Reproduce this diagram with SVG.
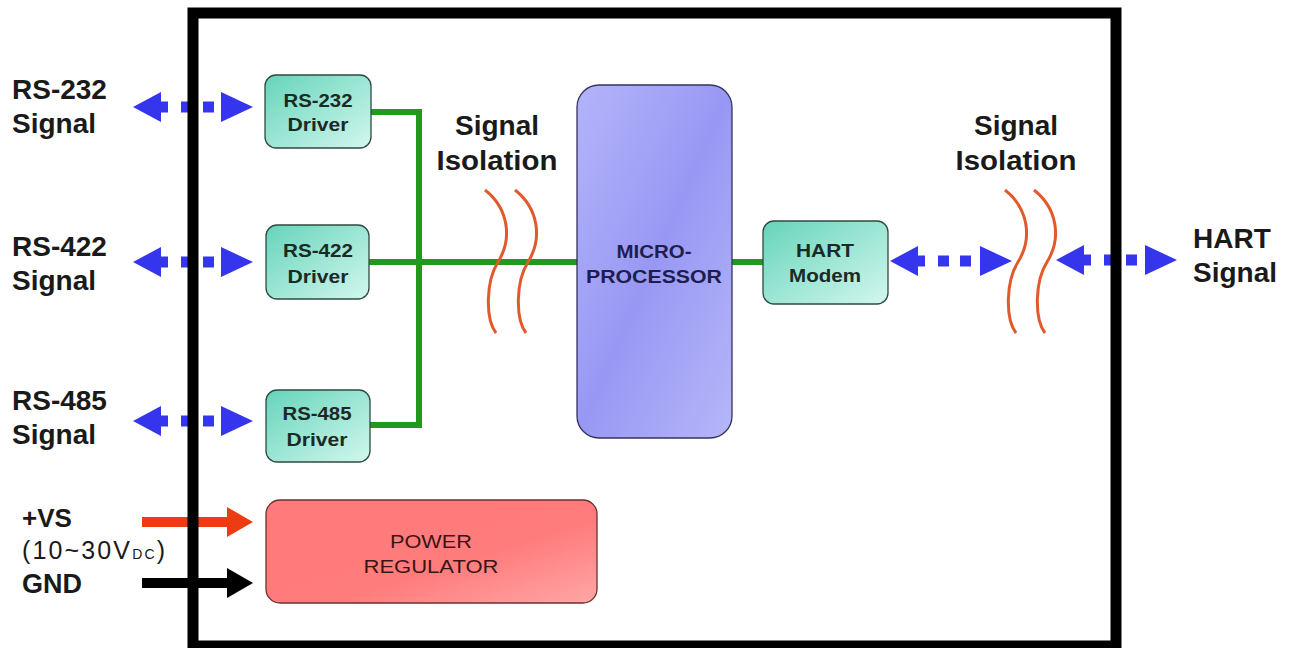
<svg xmlns="http://www.w3.org/2000/svg" width="1298" height="648" viewBox="0 0 1298 648">
<defs>
<linearGradient id="gTeal" x1="0" y1="0" x2="1" y2="1"><stop offset="0" stop-color="#66d4ba"/><stop offset="1" stop-color="#d2f7ee"/></linearGradient>
<linearGradient id="gBlue" x1="0" y1="0" x2="1" y2="1"><stop offset="0" stop-color="#b4b4fa"/><stop offset="0.5" stop-color="#9898f4"/><stop offset="1" stop-color="#b6b6f9"/></linearGradient>
<linearGradient id="gRed" x1="0" y1="0" x2="1" y2="1"><stop offset="0" stop-color="#ff7a7a"/><stop offset="0.6" stop-color="#ff7c7c"/><stop offset="1" stop-color="#ffa6a6"/></linearGradient>
<style>
.lbl{font-family:"Liberation Sans",Arial,sans-serif;font-weight:bold;font-size:28px;fill:#1a1a1a}
.lbl2{font-family:"Liberation Sans",Arial,sans-serif;font-size:25px;fill:#1a1a1a}
.btxt{font-family:"Liberation Sans",Arial,sans-serif;font-weight:bold;font-size:18px;fill:#1c2a26}
.mtxt{font-family:"Liberation Sans",Arial,sans-serif;font-weight:bold;font-size:18px;fill:#1e1e4e}
.ptxt{font-family:"Liberation Sans",Arial,sans-serif;font-size:18px;fill:#3a1414}
.drv{fill:url(#gTeal);stroke:#2f4a40;stroke-width:1.3}
.bus{stroke:#1f9a1f;stroke-width:6;fill:none}
.iso{stroke:#e05a2c;stroke-width:3;fill:none}
.blue{fill:#3535ee}
</style>
</defs>
<rect width="1298" height="648" fill="#ffffff"/>

<g id="labels">
<text class="lbl" x="12" y="99">RS-232</text>
<text class="lbl" x="12" y="133">Signal</text>
<text class="lbl" x="12" y="256">RS-422</text>
<text class="lbl" x="12" y="290">Signal</text>
<text class="lbl" x="12" y="410">RS-485</text>
<text class="lbl" x="12" y="444">Signal</text>
<text class="lbl" x="22" y="527" style="font-size:26px">+VS</text>
<text class="lbl2" x="22" y="559" textLength="143" lengthAdjust="spacing">(10~30V<tspan style="font-size:14px">DC</tspan>)</text>
<text class="lbl" x="22" y="593" style="font-size:27px">GND</text>
<text class="lbl" x="1193" y="248">HART</text>
<text class="lbl" x="1193" y="282">Signal</text>
<text class="lbl" x="497" y="135" text-anchor="middle">Signal</text>
<text class="lbl" x="497" y="170" text-anchor="middle" textLength="121" lengthAdjust="spacingAndGlyphs">Isolation</text>
<text class="lbl" x="1016" y="135" text-anchor="middle">Signal</text>
<text class="lbl" x="1016" y="170" text-anchor="middle" textLength="121" lengthAdjust="spacingAndGlyphs">Isolation</text>
</g>

<g id="connectors">
<path class="bus" d="M371,112 H419 V425 H370"/>
<path class="bus" d="M369,262 H577"/>
<path class="bus" d="M732,262 H763"/>
<g id="iso-left">
<path class="iso" d="M485,190 C508,208 513,238 498,262 C486,281 485,318 496,333"/>
<path class="iso" d="M515,190 C538,208 543,238 528,262 C516,281 515,318 526,333"/>
</g>
<g id="iso-right">
<path class="iso" d="M1005,190 C1028,208 1033,238 1018,262 C1006,281 1005,318 1016,333"/>
<path class="iso" d="M1034,190 C1057,208 1062,238 1047,262 C1035,281 1034,318 1045,333"/>
</g>
<g class="blue">
<polygon points="133,107 161,92 161,122"/><rect x="160" y="101.5" width="8" height="11"/><rect x="181" y="101.5" width="11" height="11"/><rect x="203" y="101.5" width="11" height="11"/><polygon points="253,107 221,92 221,122"/>
<polygon points="133,262 161,247 161,277"/><rect x="160" y="256.5" width="8" height="11"/><rect x="181" y="256.5" width="11" height="11"/><rect x="203" y="256.5" width="11" height="11"/><polygon points="253,262 221,247 221,277"/>
<polygon points="133,421 161,406 161,436"/><rect x="160" y="415.5" width="8" height="11"/><rect x="181" y="415.5" width="11" height="11"/><rect x="203" y="415.5" width="11" height="11"/><polygon points="253,421 221,406 221,436"/>
<polygon points="890,261 918,246 918,276"/><rect x="917" y="255.5" width="8" height="11"/><rect x="938" y="255.5" width="11" height="11"/><rect x="960" y="255.5" width="11" height="11"/><polygon points="1012,261 980,246 980,276"/>
<polygon points="1056,260 1084,245 1084,275"/><rect x="1083" y="254.5" width="8" height="11"/><rect x="1104" y="254.5" width="11" height="11"/><rect x="1126" y="254.5" width="11" height="11"/><polygon points="1177,260 1145,245 1145,275"/>
</g>
<path d="M142,522 H228" stroke="#ee3c12" stroke-width="10"/>
<polygon points="253,522 227,507 227,537" fill="#ee3c12"/>
<path d="M142,583 H228" stroke="#000000" stroke-width="10"/>
<polygon points="253,583 227,568 227,598" fill="#000000"/>
</g>

<g id="enclosure">
<rect x="193" y="13" width="923" height="633" fill="none" stroke="#000000" stroke-width="11"/>
</g>

<g id="rs232-driver">
<rect class="drv" x="265" y="75" width="106" height="73" rx="11"/>
<text class="btxt" x="318" y="107" text-anchor="middle" textLength="69" lengthAdjust="spacingAndGlyphs">RS-232</text>
<text class="btxt" x="318" y="131" text-anchor="middle" textLength="61" lengthAdjust="spacingAndGlyphs">Driver</text>
</g>
<g id="rs422-driver">
<rect class="drv" x="266" y="225" width="103" height="74" rx="11"/>
<text class="btxt" x="318" y="257" text-anchor="middle" textLength="70" lengthAdjust="spacingAndGlyphs">RS-422</text>
<text class="btxt" x="318" y="283" text-anchor="middle" textLength="61" lengthAdjust="spacingAndGlyphs">Driver</text>
</g>
<g id="rs485-driver">
<rect class="drv" x="266" y="390" width="104" height="72" rx="11"/>
<text class="btxt" x="317" y="420" text-anchor="middle" textLength="69" lengthAdjust="spacingAndGlyphs">RS-485</text>
<text class="btxt" x="317" y="446" text-anchor="middle" textLength="61" lengthAdjust="spacingAndGlyphs">Driver</text>
</g>
<g id="microprocessor">
<rect x="577" y="85" width="155" height="353" rx="22" fill="url(#gBlue)" stroke="#33335f" stroke-width="1.3"/>
<text class="mtxt" x="654" y="258" text-anchor="middle" textLength="75" lengthAdjust="spacingAndGlyphs">MICRO-</text>
<text class="mtxt" x="654" y="283" text-anchor="middle" textLength="136" lengthAdjust="spacingAndGlyphs">PROCESSOR</text>
</g>
<g id="hart-modem">
<rect class="drv" x="763" y="221" width="125" height="83" rx="11"/>
<text class="btxt" x="825" y="257" text-anchor="middle" textLength="58" lengthAdjust="spacingAndGlyphs">HART</text>
<text class="btxt" x="825" y="282" text-anchor="middle" textLength="72" lengthAdjust="spacingAndGlyphs">Modem</text>
</g>
<g id="power-regulator">
<rect x="266" y="500" width="331" height="103" rx="14" fill="url(#gRed)" stroke="#6a3030" stroke-width="1.3"/>
<text class="ptxt" x="431" y="548" text-anchor="middle" textLength="82" lengthAdjust="spacingAndGlyphs">POWER</text>
<text class="ptxt" x="431" y="573" text-anchor="middle" textLength="135" lengthAdjust="spacingAndGlyphs">REGULATOR</text>
</g>
</svg>
